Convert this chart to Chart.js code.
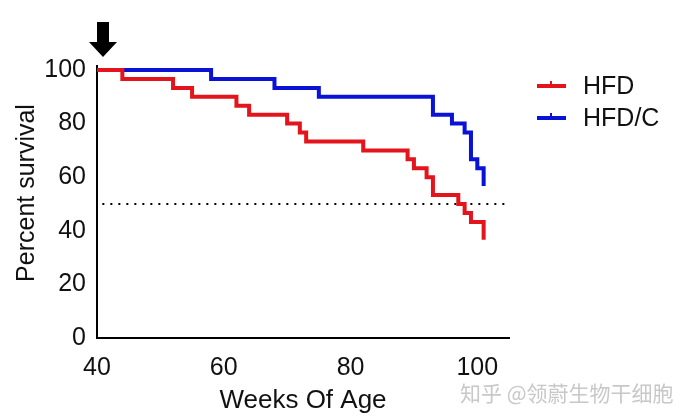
<!DOCTYPE html>
<html>
<head>
<meta charset="utf-8">
<script src="https://cdn.jsdelivr.net/npm/chart.js@4/dist/chart.umd.min.js"></script>
<style>
  html, body { margin: 0; padding: 0; background: #fff; }
  #wrap { width: 685px; height: 420px; position: relative; }
</style>
</head>
<body>
<div id="wrap"><canvas id="survChart"></canvas></div>
<script>
// 데이터 (주령, 생존율 %)
const hfdWeeks = [40, 44, 52, 55, 62, 64, 70, 72, 73, 82, 89, 90, 92, 93, 97, 98, 99, 101, 101];
const hfdSurvival = [100, 96.67, 93.33, 90, 86.67, 83.33, 80, 76.67, 73.33, 70, 66.67, 63.33, 60, 53.33, 50, 46.67, 43.33, 36.67, 36.67];
const hfdcWeeks = [40, 58, 68, 75, 93, 96, 98, 99, 100, 101, 101];
const hfdcSurvival = [100, 96.67, 93.33, 90, 83.33, 80, 76.67, 66.67, 63.33, 56.67, 56.67];
const xTicks = [40, 60, 80, 100];
const yTicks = [0, 20, 40, 60, 80, 100];
const medianLine = 50;
const dottedFrom = 41, dottedTo = 105;
const seriesNames = ['HFD', 'HFD/C'];
const seriesColors = ['#e3141b', '#0a12d6'];
const yTitle = 'Percent survival';

const FONT = 'Liberation Sans, Arial, sans-serif';

function toPoints(xs, ys) {
    return xs.map((x, i) => ({ x: x, y: ys[i] }));
}

// 점선, 화살표, 범례, 워터마크
const extras = {
    id: 'extras',
    beforeDatasetsDraw(chart) {
        const ctx = chart.ctx;
        const xs = chart.scales.x, ys = chart.scales.y;
        ctx.save();
        ctx.fillStyle = '#000';
        const yy = ys.getPixelForValue(medianLine);
        const x0 = xs.getPixelForValue(dottedFrom), x1 = xs.getPixelForValue(dottedTo);
        for (let x = x0; x <= x1; x += 8) {
            ctx.fillRect(x - 1, yy - 1, 2, 2);
        }
        // y축 선을 위로 살짝 연장
        ctx.fillRect(ys.right - 1, ys.top - 5, 2, 6);
        ctx.restore();
    },
    afterDraw(chart) {
        const ctx = chart.ctx;
        const xs = chart.scales.x;
        ctx.save();
        // y축 제목
        ctx.font = '25px ' + FONT;
        ctx.fillStyle = '#111';
        ctx.textAlign = 'center';
        ctx.textBaseline = 'middle';
        ctx.translate(27, 193);
        ctx.rotate(-Math.PI / 2);
        ctx.fillText(yTitle, 0, 0);
        ctx.setTransform(1, 0, 0, 1, 0, 0);
        ctx.restore();
        ctx.save();
        // 화살표
        const ax = xs.getPixelForValue(xTicks[0]) + 6;
        ctx.fillStyle = '#000';
        ctx.beginPath();
        ctx.moveTo(ax - 6, 22);
        ctx.lineTo(ax + 6, 22);
        ctx.lineTo(ax + 6, 42);
        ctx.lineTo(ax + 14, 42);
        ctx.lineTo(ax, 57);
        ctx.lineTo(ax - 14, 42);
        ctx.lineTo(ax - 6, 42);
        ctx.closePath();
        ctx.fill();
        // 범례
        ctx.font = '25px ' + FONT;
        ctx.textBaseline = 'middle';
        seriesNames.forEach((name, i) => {
            const y = 86 + i * 32;
            ctx.strokeStyle = seriesColors[i];
            ctx.lineWidth = 4;
            ctx.beginPath();
            ctx.moveTo(537, y);
            ctx.lineTo(566, y);
            ctx.stroke();
            ctx.lineWidth = 2;
            ctx.beginPath();
            ctx.moveTo(551, y);
            ctx.lineTo(551, y - 5);
            ctx.stroke();
            ctx.fillStyle = '#111';
            ctx.fillText(name, 583, y + 1);
        });
        // 워터마크
        ctx.font = '21px "Noto Sans CJK SC", sans-serif';
        ctx.fillStyle = '#c8c8c8';
        ctx.textBaseline = 'alphabetic';
        ctx.fillText('知乎 @领蔚生物干细胞', 460, 401);
        ctx.restore();
    }
};

const ctx = document.getElementById('survChart').getContext('2d');
new Chart(ctx, {
    type: 'line',
    data: {
        datasets: [
            {
                label: seriesNames[0],
                data: toPoints(hfdWeeks, hfdSurvival),
                borderColor: seriesColors[0],
                borderWidth: 4,
                stepped: true,
                pointRadius: 0,
                fill: false
            },
            {
                label: seriesNames[1],
                data: toPoints(hfdcWeeks, hfdcSurvival),
                borderColor: seriesColors[1],
                borderWidth: 4,
                stepped: true,
                pointRadius: 0,
                fill: false
            }
        ]
    },
    options: {
        responsive: true,
        maintainAspectRatio: false,
        animation: false,
        clip: false,
        layout: { padding: { left: 0, top: 70, right: 176, bottom: 0 } },
        plugins: {
            legend: { display: false },
            tooltip: { enabled: false }
        },
        scales: {
            x: {
                type: 'linear',
                min: 40,
                max: 105,
                afterBuildTicks: s => { s.ticks = xTicks.map(v => ({ value: v })); },
                afterFit: s => { s.height = 82; },
                grid: { display: false, drawOnChartArea: false, drawTicks: true, tickLength: 8, tickWidth: 2, tickColor: '#000' },
                border: { display: true, color: '#000', width: 2 },
                ticks: { color: '#111', font: { family: FONT, size: 25 }, padding: 7, maxRotation: 0 },
                title: { display: true, text: 'Weeks Of Age', color: '#111', font: { family: FONT, size: 26 }, padding: { top: 0 } }
            },
            y: {
                min: 0,
                max: 100,
                afterBuildTicks: s => { s.ticks = yTicks.map(v => ({ value: v })); },
                afterFit: s => { s.width = 97; },
                grid: { display: false, drawOnChartArea: false, drawTicks: true, tickLength: 8, tickWidth: 2, tickColor: '#000' },
                border: { display: true, color: '#000', width: 2 },
                ticks: { color: '#111', font: { family: FONT, size: 25 }, padding: 3 },
                title: { display: false }
            }
        }
    },
    plugins: [extras]
});
</script>
</body>
</html>
